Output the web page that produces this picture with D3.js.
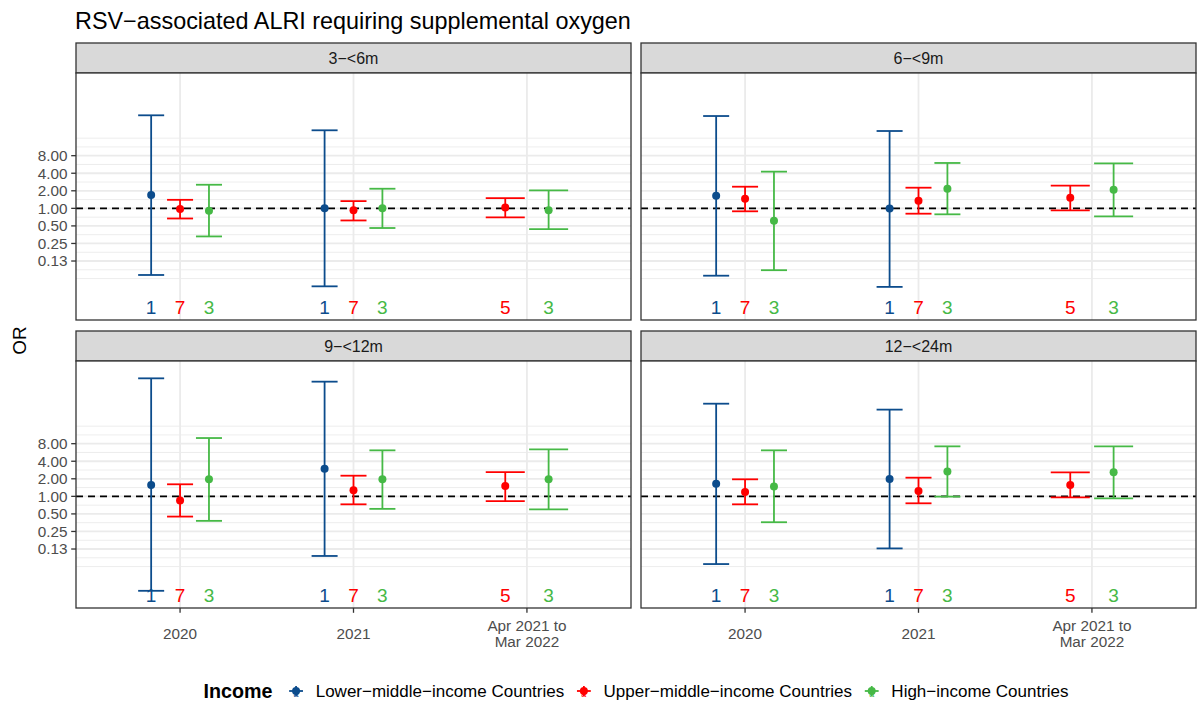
<!DOCTYPE html>
<html>
<head>
<meta charset="utf-8">
<script src="https://cdn.jsdelivr.net/npm/d3@7"></script>
<style>
  body { margin: 0; background: #ffffff; }
  text { font-family: "Liberation Sans", Arial, sans-serif; }
</style>
</head>
<body>
<svg id="chart" width="1200" height="709"></svg>
<script>
// ---- Data -------------------------------------------------------------
const chartTitle = "RSV−associated ALRI requiring supplemental oxygen";
const periods = ["2020", "2021", "Apr 2021 to Mar 2022"];
const periodLabels = [["2020"], ["2021"], ["Apr 2021 to", "Mar 2022"]];
const ageGroups = ["3−<6m", "6−<9m", "9−<12m", "12−<24m"];
const incomeGroups = ["Lower−middle−income Countries", "Upper−middle−income Countries", "High−income Countries"];

// Odds ratios with 95% CI, ordered age group by period (3 periods per age group)
const lowerMiddleOR = [1.69, 1.00, null, 1.65, 0.99, null, 1.56, 2.98, null, 1.65, 1.98, null];
const lowerMiddleLo = [0.072, 0.046, null, 0.070, 0.045, null, 0.024, 0.095, null, 0.069, 0.128, null];
const lowerMiddleHi = [39.4, 21.8, null, 38.3, 21.2, null, 105.6, 92.6, null, 38.8, 30.7, null];
const lowerMiddleN  = [1, 1, null, 1, 1, null, 1, 1, null, 1, 1, null];

const upperMiddleOR = [0.97, 0.93, 1.03, 1.46, 1.35, 1.52, 0.85, 1.27, 1.50, 1.19, 1.23, 1.56];
const upperMiddleLo = [0.67, 0.62, 0.70, 0.89, 0.81, 0.92, 0.45, 0.73, 0.83, 0.73, 0.76, 0.96];
const upperMiddleHi = [1.40, 1.33, 1.50, 2.35, 2.26, 2.45, 1.61, 2.26, 2.61, 1.96, 2.09, 2.58];
const upperMiddleN  = [7, 7, 5, 7, 7, 5, 7, 7, 5, 7, 7, 5];

const highOR = [0.91, 1.00, 0.93, 0.61, 2.17, 2.09, 1.96, 1.96, 1.96, 1.48, 2.68, 2.58];
const highLo = [0.33, 0.46, 0.44, 0.087, 0.79, 0.73, 0.38, 0.61, 0.60, 0.36, 0.99, 0.92];
const highHi = [2.54, 2.17, 2.03, 4.26, 6.0, 5.9, 10.0, 6.15, 6.4, 6.15, 7.2, 7.2];
const highN  = [3, 3, 3, 3, 3, 3, 3, 3, 3, 3, 3, 3];

const yTicks = [0.125, 0.25, 0.5, 1, 2, 4, 8];
const yTickLabels = ["0.13", "0.25", "0.50", "1.00", "2.00", "4.00", "8.00"];
const countLabelLevel = 0.02;   // OR level at which study counts are written

// ---- Styling ----------------------------------------------------------
const colors = ["#0C4C8C", "#FF0000", "#46B946"];
const W = 1200, H = 709;
const panelW = 555, panelH = 247, stripH = 30;
const colX = [76, 641];
const rowStripY = [43, 331];
const fs = { title: 23.4, axis: 15.3, strip: 16, count: 19, legend: 17, legendTitle: 19.7, axisTitle: 19 };

const series = [
  { or: lowerMiddleOR, lo: lowerMiddleLo, hi: lowerMiddleHi, n: lowerMiddleN },
  { or: upperMiddleOR, lo: upperMiddleLo, hi: upperMiddleHi, n: upperMiddleN },
  { or: highOR, lo: highLo, hi: highHi, n: highN }
];

const svg = d3.select("#chart");
svg.append("rect").attr("width", W).attr("height", H).attr("fill", "#ffffff");

// Title
svg.append("text")
  .attr("x", 75).attr("y", 29)
  .attr("font-size", fs.title).attr("fill", "#000")
  .text(chartTitle);

// Shared scales (fixed across facets)
const y = d3.scaleLog().base(2)
  .domain([Math.pow(2, -6.36), Math.pow(2, 7.71)])
  .range([panelH, 0]);
const x = d3.scalePoint().domain(periods).range([0, panelW]).padding(0.6);
const step = x.step();

const majorY = yTicks.map(v => Math.log2(v));
const minorY = d3.range(-4, 4.01, 0.5).filter(v => !majorY.includes(v));

ageGroups.forEach((age, ai) => {
  const col = ai % 2, row = Math.floor(ai / 2);
  const px = colX[col], sy = rowStripY[row], py = sy + stripH;

  // strip
  svg.append("rect")
    .attr("x", px).attr("y", sy).attr("width", panelW).attr("height", stripH)
    .attr("fill", "#D9D9D9").attr("stroke", "#333333").attr("stroke-width", 1.3);
  svg.append("text")
    .attr("x", px + panelW / 2).attr("y", sy + stripH / 2)
    .attr("dy", "0.35em").attr("text-anchor", "middle")
    .attr("font-size", fs.strip).attr("fill", "#1A1A1A")
    .text(age);

  const g = svg.append("g").attr("transform", `translate(${px},${py})`);
  g.append("rect").attr("width", panelW).attr("height", panelH).attr("fill", "#fff");

  // grid lines
  g.selectAll(".minor").data(minorY).join("line")
    .attr("x1", 0).attr("x2", panelW)
    .attr("y1", d => y(Math.pow(2, d))).attr("y2", d => y(Math.pow(2, d)))
    .attr("stroke", "#EBEBEB").attr("stroke-width", 0.9);
  g.selectAll(".major").data(yTicks).join("line")
    .attr("x1", 0).attr("x2", panelW)
    .attr("y1", d => y(d)).attr("y2", d => y(d))
    .attr("stroke", "#EBEBEB").attr("stroke-width", 1.8);
  g.selectAll(".vgrid").data(periods).join("line")
    .attr("x1", d => x(d)).attr("x2", d => x(d))
    .attr("y1", 0).attr("y2", panelH)
    .attr("stroke", "#EBEBEB").attr("stroke-width", 1.8);

  // reference line at OR = 1
  g.append("line")
    .attr("x1", 0).attr("x2", panelW)
    .attr("y1", y(1)).attr("y2", y(1))
    .attr("stroke", "#000").attr("stroke-width", 1.8)
    .attr("stroke-dasharray", "7,5");

  periods.forEach((p, pi) => {
    const idx = ai * 3 + pi;
    const present = series.map((s, si) => si).filter(si => series[si].or[idx] != null);
    const n = present.length;
    present.forEach((si, k) => {
      const s = series[si];
      const cx = x(p) + step * 0.5 * ((k + 0.5) / n - 0.5);
      const half = step * 0.45 / n / 2;
      const c = colors[si];
      const eg = g.append("g").attr("stroke", c).attr("stroke-width", 1.8).attr("fill", "none");
      eg.append("line").attr("x1", cx).attr("x2", cx).attr("y1", y(s.lo[idx])).attr("y2", y(s.hi[idx]));
      eg.append("line").attr("x1", cx - half).attr("x2", cx + half).attr("y1", y(s.lo[idx])).attr("y2", y(s.lo[idx]));
      eg.append("line").attr("x1", cx - half).attr("x2", cx + half).attr("y1", y(s.hi[idx])).attr("y2", y(s.hi[idx]));
      g.append("circle").attr("cx", cx).attr("cy", y(s.or[idx])).attr("r", 4).attr("fill", c);
      g.append("text")
        .attr("x", cx).attr("y", y(countLabelLevel))
        .attr("dy", "0.36em").attr("text-anchor", "middle")
        .attr("font-size", fs.count).attr("fill", c)
        .text(s.n[idx]);
    });
  });

  // panel border
  g.append("rect").attr("width", panelW).attr("height", panelH)
    .attr("fill", "none").attr("stroke", "#333333").attr("stroke-width", 1.3);

  // y axis (left column only)
  if (col === 0) {
    const ya = g.append("g");
    yTicks.forEach((t, ti) => {
      ya.append("line").attr("x1", -4.8).attr("x2", 0).attr("y1", y(t)).attr("y2", y(t))
        .attr("stroke", "#333333").attr("stroke-width", 1.3);
      ya.append("text").attr("x", -8.5).attr("y", y(t)).attr("dy", "0.35em")
        .attr("text-anchor", "end").attr("font-size", fs.axis).attr("fill", "#4D4D4D")
        .text(yTickLabels[ti]);
    });
  }
  // x axis (bottom row only)
  if (row === 1) {
    periods.forEach((p, pi) => {
      g.append("line").attr("x1", x(p)).attr("x2", x(p)).attr("y1", panelH).attr("y2", panelH + 4.8)
        .attr("stroke", "#333333").attr("stroke-width", 1.3);
      const lines = periodLabels[pi];
      const lh = 16;
      lines.forEach((ln, li) => {
        g.append("text")
          .attr("x", x(p))
          .attr("y", panelH + 25.5 + (li - (lines.length - 1) / 2) * lh)
          .attr("dy", "0.35em").attr("text-anchor", "middle")
          .attr("font-size", fs.axis).attr("fill", "#4D4D4D")
          .text(ln);
      });
    });
  }
});

// y axis title
svg.append("text")
  .attr("transform", "translate(26,340.5) rotate(-90)")
  .attr("text-anchor", "middle").attr("font-size", fs.axisTitle).attr("fill", "#000")
  .text("OR");

// ---- Legend -------------------------------------------------------------
const legendY = 691;
const lg = svg.append("g");
const lt = lg.append("text").attr("x", 0).attr("y", legendY).attr("dy", "0.35em")
  .attr("font-size", fs.legendTitle).attr("font-weight", "bold").attr("fill", "#000")
  .text("Income");
let cursor = lt.node().getComputedTextLength() + 15;
const keyW = 17.3;
incomeGroups.forEach((name, i) => {
  const kx = cursor + keyW / 2;
  const kg = lg.append("g");
  kg.append("line").attr("x1", kx - keyW * 0.4).attr("x2", kx + keyW * 0.4)
    .attr("y1", legendY).attr("y2", legendY).attr("stroke", colors[i]).attr("stroke-width", 1.8);
  kg.append("line").attr("x1", kx).attr("x2", kx)
    .attr("y1", legendY - 5).attr("y2", legendY + 5).attr("stroke", colors[i]).attr("stroke-width", 1.8);
  kg.append("circle").attr("cx", kx).attr("cy", legendY).attr("r", 4).attr("fill", colors[i]);
  kg.append("text").attr("x", kx).attr("y", legendY + 6).attr("text-anchor", "middle")
    .attr("font-size", 9).attr("fill", colors[i]).text("a");
  const tx = lg.append("text").attr("x", cursor + keyW + 11).attr("y", legendY).attr("dy", "0.35em")
    .attr("font-size", fs.legend).attr("fill", "#000").text(name);
  cursor += keyW + 11 + tx.node().getComputedTextLength() + 11;
});
const legendWidth = cursor - 11;
const centerX = (colX[0] + colX[1] + panelW) / 2;
lg.attr("transform", `translate(${centerX - legendWidth / 2},0)`);
</script>
</body>
</html>
